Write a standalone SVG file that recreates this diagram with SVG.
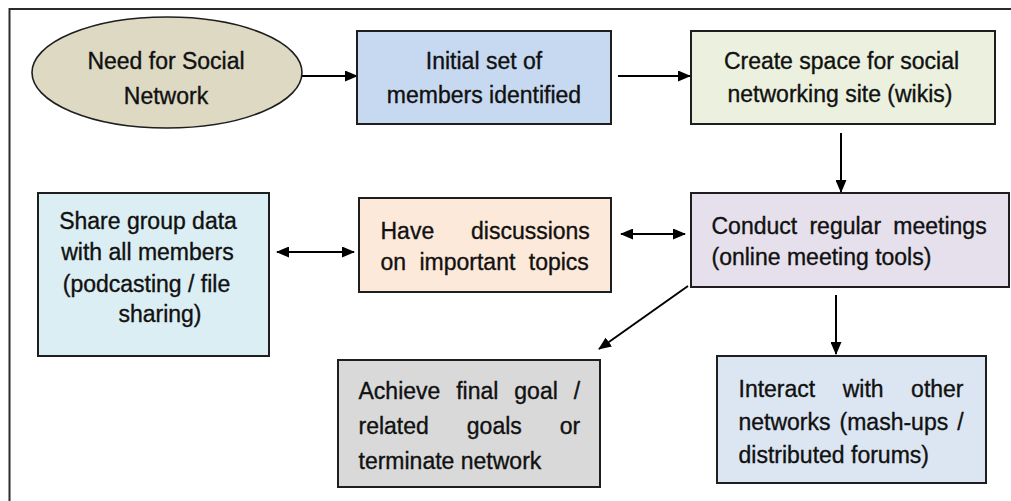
<svg xmlns="http://www.w3.org/2000/svg" width="1011" height="501" viewBox="0 0 1011 501">
  <defs>
    <marker id="head" viewBox="0 0 13 11" refX="12" refY="5.5" markerWidth="13" markerHeight="11" markerUnits="userSpaceOnUse" orient="auto-start-reverse">
      <path d="M0,0 L13,5.5 L0,11 Z" fill="#000"/>
    </marker>
    <style>
      .frame { fill: none; stroke: #2b2b2b; stroke-width: 2; }
      .box { stroke: #1e1e1e; stroke-width: 2; }
      .lbl { font-family: "Liberation Sans", Arial, sans-serif; font-size: 23px; fill: #111; stroke: #111; stroke-width: 0.35; }
      .c { text-anchor: middle; }
      .link { fill: none; stroke: #000; stroke-width: 2; marker-end: url(#head); }
      .both { marker-start: url(#head); }
    </style>
  </defs>

  <rect width="1011" height="501" fill="#fff"/>
  <!-- outer page frame, open at the right and bottom -->
  <path class="frame" d="M9.5,505 V9 H1015"/>

  <g id="connectors">
    <line class="link" x1="302" y1="76" x2="357" y2="76"/>
    <line class="link" x1="618" y1="76" x2="690" y2="76"/>
    <line class="link" x1="841" y1="133" x2="841" y2="192"/>
    <line class="link both" x1="277" y1="252" x2="354" y2="252"/>
    <line class="link both" x1="621" y1="234" x2="685" y2="234"/>
    <line class="link" x1="688" y1="286" x2="599" y2="349"/>
    <line class="link" x1="836" y1="295" x2="836" y2="354"/>
  </g>

  <g id="need">
    <ellipse cx="167" cy="72.5" rx="135" ry="55.5" fill="#ddd9c3" stroke="#1e1e1e" stroke-width="1.6"/>
    <text class="lbl c" x="166" y="68.5">Need for Social</text>
    <text class="lbl c" x="166" y="104">Network</text>
  </g>

  <g id="initial">
    <rect class="box" x="357" y="31" width="254" height="93" fill="#c6d9f1"/>
    <text class="lbl c" x="484" y="69">Initial set of</text>
    <text class="lbl c" x="484" y="103">members identified</text>
  </g>

  <g id="create">
    <rect class="box" x="691" y="31" width="304" height="93" fill="#ebf1de"/>
    <text class="lbl c" x="841.5" y="68.5">Create space for social</text>
    <text class="lbl c" x="840" y="102">networking site (wikis)</text>
  </g>

  <g id="share">
    <rect class="box" x="38" y="193" width="231" height="163" fill="#dbeef3"/>
    <text class="lbl c" x="148" y="228.5">Share group data</text>
    <text class="lbl c" x="147.5" y="260">with all members</text>
    <text class="lbl c" x="146.5" y="291.5">(podcasting / file</text>
    <text class="lbl c" x="160" y="322">sharing)</text>
  </g>

  <g id="discuss">
    <rect class="box" x="359" y="198" width="252" height="94" fill="#fde9d9"/>
    <text class="lbl" x="380.5" y="238.5" word-spacing="30.4">Have discussions</text>
    <text class="lbl" x="380.5" y="270" word-spacing="7">on important topics</text>
  </g>

  <g id="meetings">
    <rect class="box" x="691" y="193" width="318" height="94" fill="#e5e0ec"/>
    <text class="lbl" x="711.5" y="233.5" word-spacing="5.9">Conduct regular meetings</text>
    <text class="lbl" x="711.5" y="265">(online meeting tools)</text>
  </g>

  <g id="achieve">
    <rect class="box" x="338" y="360" width="262" height="127" fill="#d9d9d9"/>
    <text class="lbl" x="358.5" y="398.5" word-spacing="9.5">Achieve final goal /</text>
    <text class="lbl" x="358.5" y="433.5" word-spacing="31.6">related goals or</text>
    <text class="lbl" x="358.5" y="468.5">terminate network</text>
  </g>

  <g id="interact">
    <rect class="box" x="717" y="356" width="269" height="127" fill="#dce6f2"/>
    <text class="lbl" x="738.5" y="397" word-spacing="21.1">Interact with other</text>
    <text class="lbl" x="738.5" y="430" word-spacing="2.6">networks (mash-ups /</text>
    <text class="lbl" x="738.5" y="463">distributed forums)</text>
  </g>
</svg>
